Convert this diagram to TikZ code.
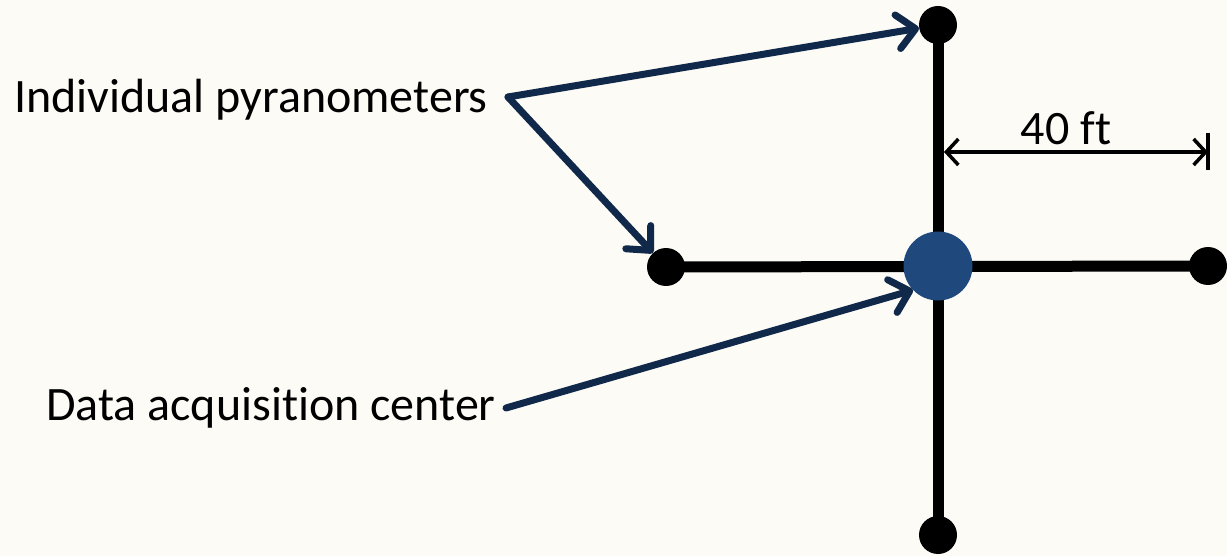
\documentclass[tikz,border=0pt]{standalone}
\usepackage{fontspec}
\setmainfont{Carlito}[Ligatures={NoCommon}]
\usetikzlibrary{arrows.meta}
\definecolor{bg}{HTML}{FCFBF6}
\definecolor{navy}{HTML}{10294A}
\definecolor{hub}{HTML}{1F497D}
\tikzset{
  dot/.style={circle, fill=black, minimum size=38pt, inner sep=0pt},
  hubdot/.style={circle, fill=hub, minimum size=69pt, inner sep=0pt},
  lbl/.style={font=\fontsize{48}{54}\selectfont, anchor=base west, inner sep=0pt},
  pointer/.style={draw=navy, line width=7pt, line cap=round, line join=round,
    -{Straight Barb[length=18pt, width=34pt, line width=7pt, round]}},
  arm/.style={line width=11pt, draw=black},
  dim/.style={line width=3.5pt, {Straight Barb[length=12pt, width=26pt]}-{Straight Barb[length=12pt, width=26pt]}}
}
\begin{document}
\begin{tikzpicture}[x=1pt, y=-1pt]
\fill[bg] (0,0) rectangle (1227,556);
\useasboundingbox (0,0) rectangle (1227,556);
% cross
\node[dot] (top) at (938,25) {};
\node[dot] (bot) at (938,535) {};
\node[dot] (lft) at (666,267) {};
\node[dot] (rgt) at (1208,266) {};
\draw[arm] (top.center) -- (bot.center);
\draw[arm] (lft.center) -- (rgt.center);
\node[hubdot] (hub) at (938,266) {};
% labels
\node[lbl] (ind) at (14,113) {Individual pyranometers};
\node[lbl] (dac) at (46,420) {Data acquisition center};
\coordinate (indout) at (508,97);
\coordinate (dacout) at (506,408);
\draw[pointer] (indout) -- (top);
\draw[pointer] (indout) -- (lft);
\draw[pointer] (dacout) -- (hub.224);
% dimension
\coordinate (dimL) at (944,152);
\coordinate (dimR) at (1208,152);
\draw[line width=3.5pt] (1208,133) -- (1208,170);
\draw[dim] (dimL) -- (dimR);
\node[font=\fontsize{48}{54}\selectfont, anchor=base, inner sep=0pt] (ft) at (1066,145) {40 ft};
\end{tikzpicture}
\end{document}
